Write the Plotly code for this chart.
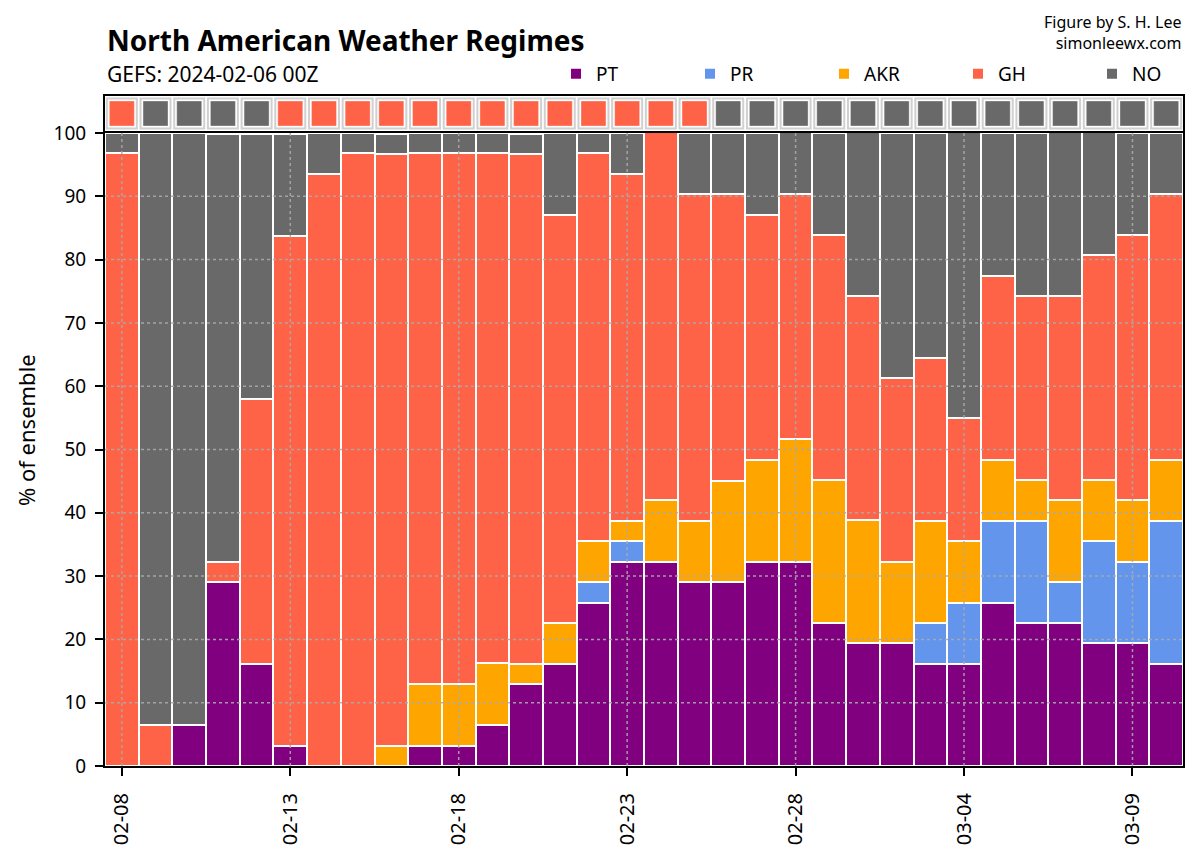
import plotly.graph_objects as go

# ---------------- data ----------------
dates = ["02-08", "02-09", "02-10", "02-11", "02-12", "02-13", "02-14", "02-15",
         "02-16", "02-17", "02-18", "02-19", "02-20", "02-21", "02-22", "02-23",
         "02-24", "02-25", "02-26", "02-27", "02-28", "02-29", "03-01", "03-02",
         "03-03", "03-04", "03-05", "03-06", "03-07", "03-08", "03-09", "03-10"]
tick_labels = ["02-08", "02-13", "02-18", "02-23", "02-28", "03-04", "03-09"]
y_ticks = [0, 10, 20, 30, 40, 50, 60, 70, 80, 90, 100]

regimes = ["PT", "PR", "AKR", "GH", "NO"]
colors = {"PT": "#800080", "PR": "#6495ED", "AKR": "#FFA500", "GH": "#FF6347", "NO": "#696969"}

pt = [0, 0, 6.5, 29.0, 16.1, 3.2, 0, 0, 0, 3.2, 3.2, 6.5, 12.9, 16.1, 25.8, 32.3,
      32.3, 29.0, 29.0, 32.3, 32.3, 22.6, 19.4, 19.4, 16.1, 16.1, 25.8, 22.6, 22.6, 19.4, 19.4, 16.1]
pr = [0, 0, 0, 0, 0, 0, 0, 0, 0, 0, 0, 0, 0, 0, 3.2, 3.2,
      0, 0, 0, 0, 0, 0, 0, 0, 6.5, 9.7, 12.9, 16.1, 6.5, 16.1, 12.9, 22.6]
akr = [0, 0, 0, 0, 0, 0, 0, 0, 3.2, 9.7, 9.7, 9.7, 3.2, 6.5, 6.5, 3.2,
       9.7, 9.7, 16.1, 16.1, 19.4, 22.6, 19.4, 12.9, 16.1, 9.7, 9.7, 6.5, 12.9, 9.7, 9.7, 9.7]
gh = [96.8, 6.5, 0, 3.2, 41.9, 80.6, 93.5, 96.8, 93.5, 83.9, 83.9, 80.6, 80.6, 64.5, 61.3, 54.8,
      58.1, 51.6, 45.2, 38.7, 38.7, 38.7, 35.5, 29.0, 25.8, 19.4, 29.0, 29.0, 32.3, 35.5, 41.9, 41.9]
no = [3.2, 93.5, 93.5, 67.7, 41.9, 16.1, 6.5, 3.2, 3.2, 3.2, 3.2, 3.2, 3.2, 12.9, 3.2, 6.5,
      0, 9.7, 9.7, 12.9, 9.7, 16.1, 25.8, 38.7, 35.5, 45.2, 22.6, 25.8, 25.8, 19.4, 16.1, 9.7]

top_regime = ["GH", "NO", "NO", "NO", "NO", "GH", "GH", "GH", "GH", "GH", "GH", "GH", "GH", "GH",
              "GH", "GH", "GH", "GH", "NO", "NO", "NO", "NO", "NO", "NO", "NO", "NO", "NO", "NO",
              "NO", "NO", "NO", "NO"]

series = {"PT": pt, "PR": pr, "AKR": akr, "GH": gh, "NO": no}

FONT = "Noto Sans"

# ---------------- figure ----------------
fig = go.Figure()

for name in regimes:
    fig.add_trace(go.Bar(
        x=dates, y=series[name], name=name,
        marker=dict(color=colors[name], line=dict(color="white", width=2)),
        width=1.0, xaxis="x", yaxis="y",
    ))

# top strip: cell frames and coloured squares
fig.add_trace(go.Scatter(
    x=dates, y=[0.5] * len(dates), mode="markers", showlegend=False, hoverinfo="skip",
    marker=dict(symbol="square", size=30, color="white", line=dict(color="#d0d0d0", width=2)),
    xaxis="x2", yaxis="y2",
))
fig.add_trace(go.Scatter(
    x=dates, y=[0.5] * len(dates), mode="markers", showlegend=False,
    marker=dict(symbol="square", size=25, color=[colors[r] for r in top_regime],
                line=dict(color="rgba(255,255,255,0.35)", width=1)),
    xaxis="x2", yaxis="y2",
))

# dotted gridlines drawn above bars
shapes = []
for v in y_ticks[1:-1]:
    shapes.append(dict(type="line", xref="x domain", yref="y", x0=0, x1=1, y0=v, y1=v,
                       line=dict(color="rgba(170,170,170,0.9)", width=1.5, dash="dot"), layer="above"))
for t in tick_labels:
    i = dates.index(t)
    shapes.append(dict(type="line", xref="x", yref="y domain", x0=i, x1=i, y0=0, y1=1,
                       line=dict(color="rgba(170,170,170,0.9)", width=1.5, dash="dot"), layer="above"))

H = 670.0  # paper height in px (plot area incl. strip)
def py(px_from_top):
    return (766 - px_from_top) / H

def px(px_from_left):
    return (px_from_left - 105) / 1078.0

main_top = py(133)
strip_bot = py(131)

fig.update_layout(
    width=1200, height=861,
    margin=dict(l=97, r=25, t=88, b=103, autoexpand=False),
    paper_bgcolor="white", plot_bgcolor="white",
    barmode="stack", bargap=0,
    font=dict(family=FONT, size=19, color="black"),
    shapes=shapes,
    xaxis=dict(type="category", categoryorder="array", categoryarray=dates,
               domain=[0, 1], range=[-0.5, len(dates) - 0.5],
               tickmode="array", tickvals=tick_labels, ticktext=tick_labels,
               tickangle=-90, ticks="outside", ticklen=8, tickwidth=2, tickcolor="black",
               ticklabelstandoff=9,
               showline=True, linecolor="black", linewidth=2, mirror=True,
               showgrid=False, zeroline=False, tickfont=dict(size=20), anchor="y"),
    yaxis=dict(domain=[0, main_top], range=[0, 100], tickvals=y_ticks,
               ticks="outside", ticklen=8, tickwidth=2, tickcolor="black",
               ticklabelstandoff=5,
               showline=True, linecolor="black", linewidth=2, mirror=True,
               showgrid=False, zeroline=False, tickfont=dict(size=19), anchor="x"),
    xaxis2=dict(type="category", categoryorder="array", categoryarray=dates,
                matches="x", anchor="y2", showticklabels=False, ticks="",
                showline=True, linecolor="black", linewidth=2, mirror=True,
                showgrid=False, zeroline=False),
    yaxis2=dict(domain=[strip_bot, 1], range=[0, 1], anchor="x2", showticklabels=False,
                ticks="", showline=True, linecolor="black", linewidth=2, mirror=True,
                showgrid=False, zeroline=False),
    legend=dict(orientation="h", x=px(556), xanchor="left", y=py(74), yanchor="middle",
                traceorder="normal", font=dict(size=19), entrywidth=89, entrywidthmode="pixels",
                bgcolor="rgba(0,0,0,0)"),
    annotations=[
        dict(text="<b>North American Weather Regimes</b>", xref="paper", yref="paper",
             x=0, y=py(40), xanchor="left", yanchor="middle", showarrow=False,
             font=dict(size=28, family=FONT)),
        dict(text="GEFS: 2024-02-06 00Z", xref="paper", yref="paper",
             x=0, y=py(74), xanchor="left", yanchor="middle", showarrow=False,
             font=dict(size=21, family=FONT)),
        dict(text="Figure by S. H. Lee<br>simonleewx.com", xref="paper", yref="paper",
             x=1, y=py(33), xanchor="right", yanchor="middle", align="right",
             showarrow=False, font=dict(size=16, family=FONT)),
        dict(text="% of ensemble", xref="paper", yref="paper", x=px(26), y=py(430),
             xanchor="center", yanchor="middle", textangle=-90, showarrow=False,
             font=dict(size=22, family=FONT)),
    ],
)

fig.write_html("out.html")
